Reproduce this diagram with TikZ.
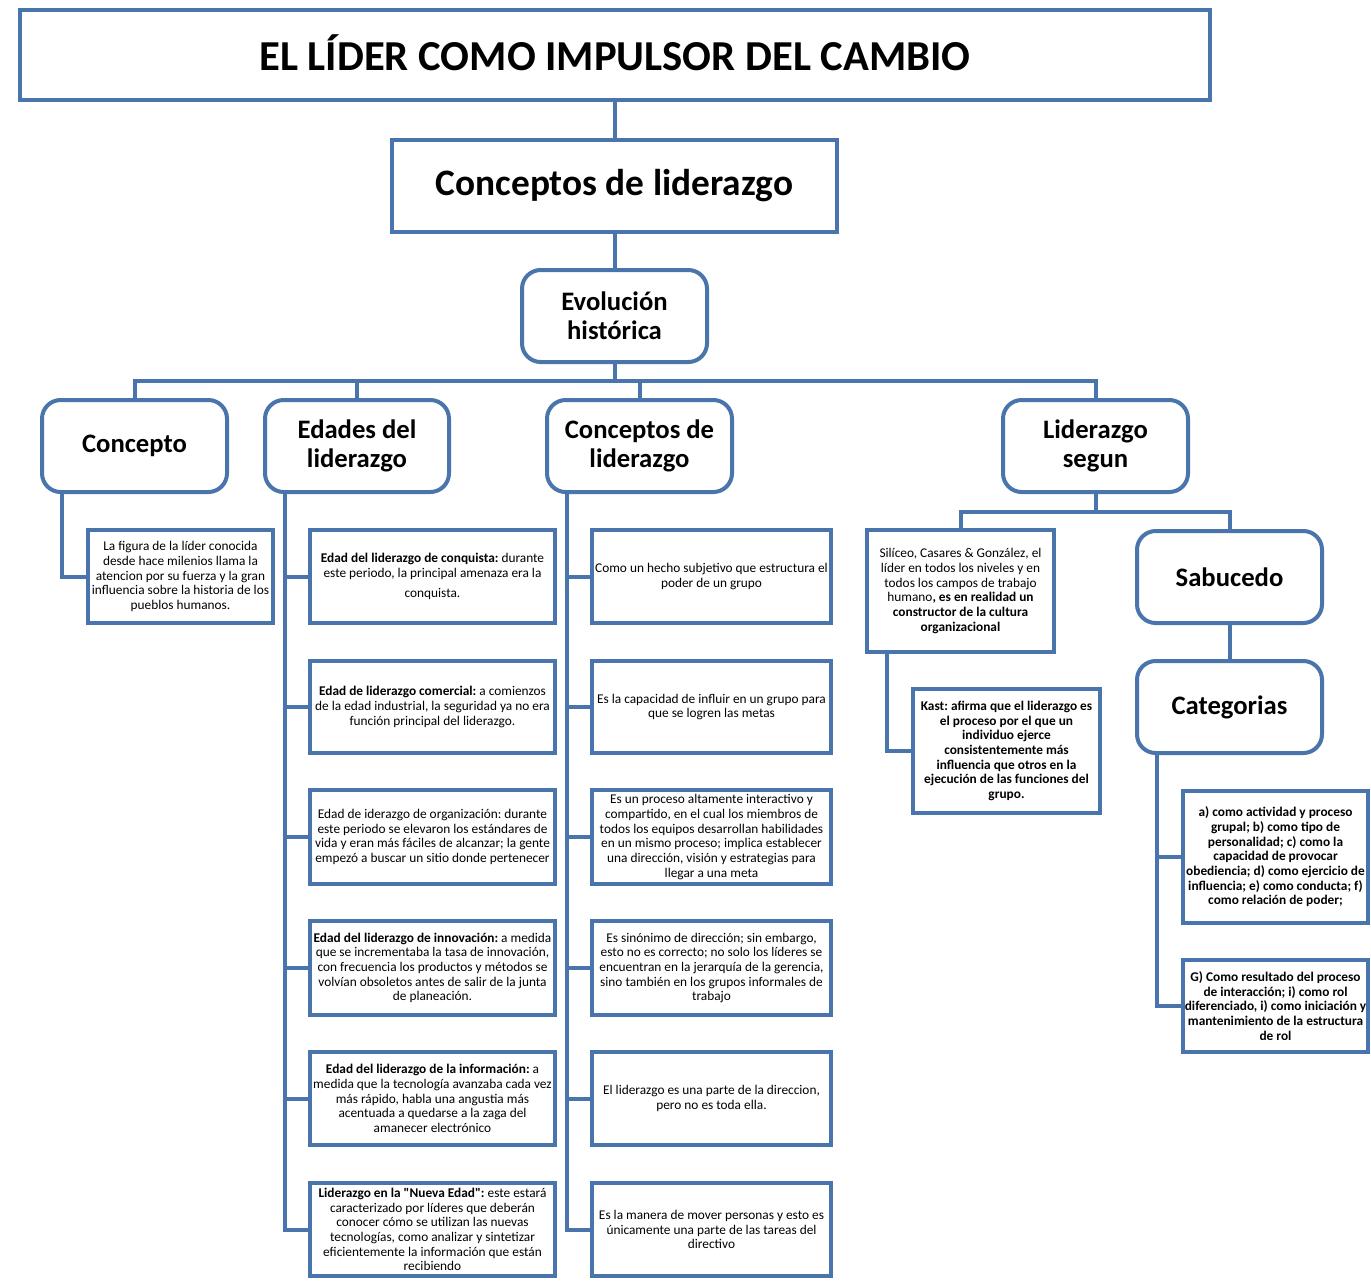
\documentclass[tikz,border=0pt]{standalone}
\usepackage{fontspec}
\setmainfont{Carlito}[Ligatures=TeXOff]
\usetikzlibrary{calc}
\definecolor{lnblue}{RGB}{74,117,172}
\frenchspacing
\newcommand\smtxt{\fontsize{10}{11}\selectfont}
\newcommand\hdtxt{\fontsize{20}{22}\selectfont\bfseries}
\begin{document}
\begin{tikzpicture}[x=0.75pt,y=-0.75pt,
  every node/.style={outer sep=0pt,inner sep=0pt,align=center,text=black},
  bx/.style 2 args={draw=lnblue,line width=3pt,fill=white,minimum width={#1*0.75pt},minimum height={#2*0.75pt}},
  rbx/.style 2 args={bx={#1}{#2},rounded corners=14pt,font=\hdtxt},
  tbx/.style 2 args={bx={#1}{#2},font=\smtxt},
  conn/.style={draw=lnblue,line width=3pt}]
\useasboundingbox[fill=white] (0,0) rectangle (1371,1283);

% top level
\node[bx={1190}{90},font=\fontsize{32}{36}\selectfont\bfseries] (title) at (615,55) {\raisebox{3.5pt}{EL LÍDER COMO IMPULSOR DEL CAMBIO}};
\node[bx={445}{92},font=\fontsize{28}{32}\selectfont\bfseries] (cl) at (614.5,186) {Conceptos de liderazgo};
\node[rbx={185}{92}] (evo) at (614.5,316) {Evolución\\histórica};

% level 3
\node[rbx={185}{92}] (conc) at (134.5,446) {Concepto};
\node[rbx={184}{92}] (edades) at (357,446) {Edades del\\liderazgo};
\node[rbx={185}{92}] (conc2) at (639.5,446) {Conceptos de\\liderazgo};
\node[rbx={185}{92}] (lidseg) at (1095.5,446) {Liderazgo\\segun};

% concepto child
\node[tbx={185}{93}] (conctxt) at (180.5,576.5) {La figura de la líder conocida\\desde hace milenios llama la\\atencion por su fuerza y la gran\\influencia sobre la historia de los\\pueblos humanos.};

% edades children
\node[tbx={245}{93}] (e1) at (432.5,576.5) {\textbf{Edad del liderazgo de conquista:} durante\\este periodo, la principal amenaza era la\\[4pt]conquista.};
\node[tbx={245}{92}] (e2) at (432.5,707) {\textbf{Edad de liderazgo comercial:} a comienzos\\de la edad industrial, la seguridad ya no era\\función principal del liderazgo.};
\node[tbx={245}{94}] (e3) at (432.5,837) {Edad de iderazgo de organización: durante\\este periodo se elevaron los estándares de\\vida y eran más fáciles de alcanzar; la gente\\empezó a buscar un sitio donde pertenecer};
\node[tbx={245}{94}] (e4) at (432.5,968) {\textbf{Edad del liderazgo de innovación:} a medida\\que se incrementaba la tasa de innovación,\\con frecuencia los productos y métodos se\\volvían obsoletos antes de salir de la junta\\de planeación.};
\node[tbx={245}{93}] (e5) at (432.5,1098.5) {\textbf{Edad del liderazgo de la información:} a\\medida que la tecnología avanzaba cada vez\\más rápido, habla una angustia más\\acentuada a quedarse a la zaga del\\amanecer electrónico};
\node[tbx={245}{93}] (e6) at (432.5,1229.5) {\textbf{Liderazgo en la "Nueva Edad":} este estará\\caracterizado por líderes que deberán\\conocer cómo se utilizan las nuevas\\tecnologías, como analizar y sintetizar\\eficientemente la información que están\\recibiendo};

% conceptos children
\node[tbx={239}{93}] (c1) at (711.5,576.5) {Como un hecho subjetivo que estructura el\\poder de un grupo};
\node[tbx={239}{92}] (c2) at (711.5,707) {Es la capacidad de influir en un grupo para\\que se logren las metas};
\node[tbx={239}{94}] (c3) at (711.5,837) {Es un proceso altamente interactivo y\\compartido, en el cual los miembros de\\todos los equipos desarrollan habilidades\\en un mismo proceso; implica establecer\\una dirección, visión y estrategias para\\llegar a una meta};
\node[tbx={239}{94}] (c4) at (711.5,968) {Es sinónimo de dirección; sin embargo,\\esto no es correcto; no solo los líderes se\\encuentran en la jerarquía de la gerencia,\\sino también en los grupos informales de\\trabajo};
\node[tbx={239}{93}] (c5) at (711.5,1098.5) {El liderazgo es una parte de la direccion,\\pero no es toda ella.};
\node[tbx={239}{93}] (c6) at (711.5,1229.5) {Es la manera de mover personas y esto es\\únicamente una parte de las tareas del\\directivo};

% liderazgo segun children
\node[tbx={187}{122}] (sil) at (960.5,591) {Silíceo, Casares \& González, el\\líder en todos los niveles y en\\todos los campos de trabajo\\humano\textbf{, es en realidad un}\\\textbf{constructor de la cultura}\\\textbf{organizacional}};
\node[tbx={187}{124},font=\smtxt\bfseries] (kast) at (1006.5,751) {Kast: afirma que el liderazgo es\\el proceso por el que un\\individuo ejerce\\consistentemente más\\influencia que otros en la\\ejecución de las funciones del\\grupo.};
\node[rbx={185}{92}] (sab) at (1229.5,577) {Sabucedo};
\node[rbx={185}{92}] (cat) at (1229.5,707) {Categorias};
\node[tbx={185}{132},font=\smtxt\bfseries] (cata) at (1275.5,857) {a) como actividad y proceso\\grupal; b) como tipo de\\personalidad; c) como la\\capacidad de provocar\\obediencia; d) como ejercicio de\\influencia; e) como conducta; f)\\como relación de poder;};
\node[tbx={185}{92},font=\smtxt\bfseries] (catg) at (1275.5,1006) {G) Como resultado del proceso\\de interacción; i) como rol\\diferenciado, i) como iniciación y\\mantenimiento de la estructura\\de rol};

% connectors
\coordinate (bus) at ($(evo.south)+(0,19)$);
\draw[conn] (cl.north) -- (cl.north |- title.south);
\draw[conn] (evo.north) -- (evo.north |- cl.south);
\draw[conn] (evo.south) -- (bus);
\draw[conn] (conc.north) |- (bus) -| (lidseg.north);
\draw[conn] (edades.north) -- (edades.north |- bus);
\draw[conn] (conc2.north) -- (conc2.north |- bus);

\coordinate (cs) at ($(conc.south west)+(20,0)$);
\draw[conn] (cs) |- (conctxt.west);

\coordinate (es) at ($(edades.south west)+(20,0)$);
\draw[conn] (es) |- (e6.west);
\foreach \i in {1,...,5} {\draw[conn] (e\i.west) -- (e\i.west -| es);}

\coordinate (ks) at ($(conc2.south west)+(20,0)$);
\draw[conn] (ks) |- (c6.west);
\foreach \i in {1,...,5} {\draw[conn] (c\i.west) -- (c\i.west -| ks);}

\coordinate (ls) at ($(lidseg.south)+(0,20)$);
\draw[conn] (lidseg.south) -- (ls);
\draw[conn] (sil.north) |- (ls) -| (sab.north);
\coordinate (ss) at ($(sil.south west)+(20,0)$);
\draw[conn] (ss) |- (kast.west);
\draw[conn] (sab.south) -- (cat.north);
\coordinate (cs2) at ($(cat.south west)+(20,0)$);
\draw[conn] (cs2) |- (catg.west);
\draw[conn] (cata.west) -- (cata.west -| cs2);
\end{tikzpicture}
\end{document}
